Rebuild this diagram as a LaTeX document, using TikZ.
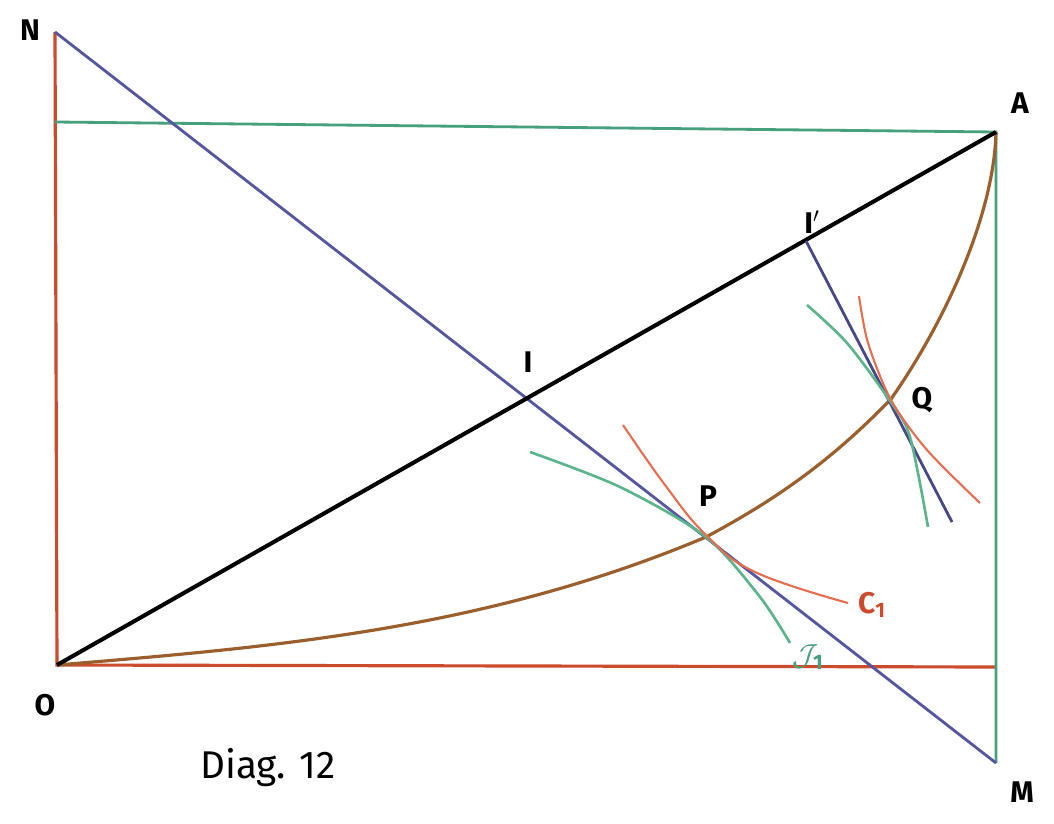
\documentclass[tikz,border=0pt]{standalone}
\usepackage{fontspec}
\setmainfont{Fira Sans}
\definecolor{brick}{RGB}{205,75,45}
\definecolor{tealg}{RGB}{70,160,125}
\definecolor{slate}{RGB}{85,85,160}
\definecolor{umber}{RGB}{155,95,45}
\definecolor{salmon}{RGB}{230,110,80}
\definecolor{lgreen}{RGB}{90,180,140}
\begin{document}
\begin{tikzpicture}[x=0.02cm,y=-0.02cm,
  redl/.style={draw=brick, line width=1.8pt},
  greenl/.style={draw=tealg, line width=1.6pt},
  bluel/.style={draw=slate, line width=1.6pt},
  brownl/.style={draw=umber, line width=1.8pt},
  blackl/.style={draw=black, line width=2.3pt},
  lab/.style={font=\fontsize{17}{19}\selectfont\bfseries},
  thinred/.style={draw=salmon, line width=1.2pt},
  thingreen/.style={draw=lgreen, line width=1.5pt}]
\useasboundingbox (0,0) rectangle (1054,824);
\fill[white] (0,0) rectangle (1054,824);
% points
\coordinate (O) at (57,665);
\coordinate (A) at (996,132);
\coordinate (N) at (55,32);
\coordinate (M) at (996,763);
\coordinate (NT) at (55,122);
\coordinate (OR) at (996,667);
\coordinate (Ip) at (806,241);
\coordinate (Qe) at (952,522);
\coordinate (P) at (706,537);
\coordinate (Q) at (891,399);
% frame
\draw[redl] (N) -- (O) -- (OR);
\draw[greenl] (NT) -- (A) -- (M);
% diagonal NM
\draw[bluel] (N) -- (M);
% brown curve
\draw[brownl] (O) .. controls (273,647) and (485,630) .. (P)
  .. controls (775,500) and (830,462) .. (Q)
  .. controls (945,322) and (994,215) .. (A);
% OA
\draw[blackl] (O) -- (A);
% tangent at Q
\draw[bluel, draw=slate!85!black] (Ip) -- (Qe);
% curves at P
\draw[thingreen] plot[smooth] coordinates {(530,452) (620,487) (706,537) (760,597) (790,643)};
\draw[thinred] plot[smooth, tension=0.7] coordinates {(623,425) (665,485) (706,535) (755,572) (848,603)};
% curves at Q
\draw[thingreen] plot[smooth] coordinates {(807,305) (847,343) (890,401) (910,437) (928,527)};
\draw[thinred] plot[smooth] coordinates {(859,296) (868,343) (891,400) (927,450) (980,503)};
% labels
\node[lab] (lN) at (30,30) {N};
\node[lab] (lA) at (1020,103) {A};
\node[lab] (lIp) at (812,222) {I$'$};
\node[lab] (lI) at (528,362) {I};
\node[lab] (lP) at (708,496) {P};
\node[lab] (lQ) at (922,400) {Q};
\node[lab, text=brick] (lC) at (872,605) {C\textsubscript{1}};
\node[lab, text=tealg] (lJ) at (808,657) {$\mathcal{J}_{\mathbf{1}}$};
\node[lab] (lO) at (45,705) {O};
\node[lab] (lM) at (1022,792) {M};
\node[font=\fontsize{22}{26}\selectfont] (cap) at (268,768) {Diag. 12};
\end{tikzpicture}
\end{document}
